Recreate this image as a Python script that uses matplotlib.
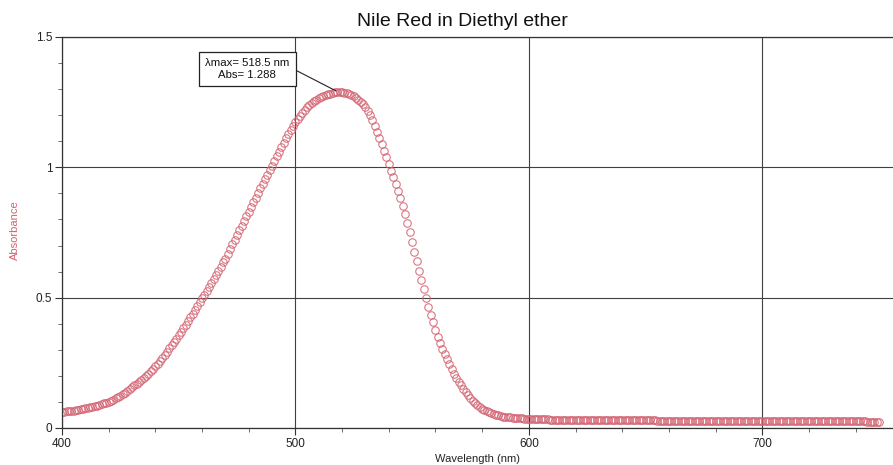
import numpy as np
import matplotlib
matplotlib.use('Agg')
import matplotlib.pyplot as plt
from matplotlib.ticker import MultipleLocator, FormatStrFormatter

plt.rcParams['font.family'] = ['Liberation Sans', 'DejaVu Sans']

# spectrum sampled every 1 nm, 400..750 nm
wavelength = np.arange(400, 751, 1)
absorbance = [
    0.062, 0.063, 0.064, 0.065, 0.066, 0.067, 0.068, 0.070, 0.071, 0.073,
    0.075, 0.077, 0.079, 0.081, 0.083, 0.086, 0.088, 0.091, 0.094, 0.097,
    0.101, 0.105, 0.109, 0.114, 0.119, 0.124, 0.130, 0.136, 0.142, 0.149,
    0.156, 0.163, 0.170, 0.177, 0.185, 0.193, 0.201, 0.209, 0.218, 0.227,
    0.236, 0.247, 0.258, 0.269, 0.281, 0.293, 0.305, 0.318, 0.330, 0.343,
    0.356, 0.369, 0.383, 0.396, 0.410, 0.424, 0.438, 0.453, 0.467, 0.482,
    0.497, 0.512, 0.527, 0.542, 0.558, 0.573, 0.588, 0.604, 0.619, 0.635,
    0.650, 0.668, 0.686, 0.704, 0.722, 0.740, 0.758, 0.776, 0.794, 0.812,
    0.830, 0.848, 0.866, 0.884, 0.902, 0.920, 0.937, 0.954, 0.971, 0.988,
    1.005, 1.024, 1.042, 1.060, 1.078, 1.095, 1.111, 1.127, 1.142, 1.157,
    1.172, 1.185, 1.197, 1.209, 1.220, 1.230, 1.239, 1.247, 1.254, 1.260,
    1.265, 1.270, 1.274, 1.278, 1.281, 1.283, 1.285, 1.287, 1.288, 1.288,
    1.287, 1.286, 1.284, 1.281, 1.277, 1.272, 1.267, 1.260, 1.252, 1.243,
    1.232, 1.217, 1.200, 1.181, 1.160, 1.137, 1.112, 1.088, 1.063, 1.038,
    1.012, 0.987, 0.962, 0.936, 0.910, 0.882, 0.853, 0.821, 0.786, 0.750,
    0.712, 0.676, 0.640, 0.604, 0.568, 0.533, 0.498, 0.466, 0.434, 0.405,
    0.376, 0.350, 0.325, 0.303, 0.282, 0.263, 0.244, 0.226, 0.209, 0.193,
    0.178, 0.164, 0.150, 0.137, 0.125, 0.114, 0.104, 0.095, 0.087, 0.080,
    0.074, 0.069, 0.064, 0.060, 0.056, 0.053, 0.050, 0.048, 0.046, 0.044,
    0.043, 0.042, 0.041, 0.040, 0.039, 0.038, 0.037, 0.037, 0.036, 0.036,
    0.035, 0.035, 0.034, 0.034, 0.034, 0.033, 0.033, 0.033, 0.033, 0.032,
    0.032, 0.032, 0.032, 0.032, 0.031, 0.031, 0.031, 0.031, 0.031, 0.031,
    0.031, 0.031, 0.031, 0.030, 0.030, 0.030, 0.030, 0.030, 0.030, 0.030,
    0.030, 0.030, 0.030, 0.030, 0.030, 0.029, 0.029, 0.029, 0.029, 0.029,
    0.029, 0.029, 0.029, 0.029, 0.029, 0.029, 0.029, 0.029, 0.029, 0.029,
    0.029, 0.029, 0.029, 0.029, 0.029, 0.028, 0.028, 0.028, 0.028, 0.028,
    0.028, 0.028, 0.028, 0.028, 0.028, 0.028, 0.028, 0.028, 0.028, 0.028,
    0.028, 0.028, 0.028, 0.028, 0.028, 0.027, 0.027, 0.027, 0.027, 0.027,
    0.027, 0.027, 0.027, 0.027, 0.027, 0.027, 0.027, 0.027, 0.027, 0.027,
    0.027, 0.027, 0.027, 0.027, 0.027, 0.026, 0.026, 0.026, 0.026, 0.026,
    0.026, 0.026, 0.026, 0.026, 0.026, 0.026, 0.026, 0.026, 0.026, 0.026,
    0.026, 0.026, 0.026, 0.026, 0.026, 0.025, 0.025, 0.025, 0.025, 0.025,
    0.025, 0.025, 0.025, 0.025, 0.025, 0.025, 0.025, 0.025, 0.025, 0.025,
    0.025, 0.025, 0.025, 0.025, 0.025, 0.025, 0.025, 0.025, 0.025, 0.025,
    0.025, 0.025, 0.025, 0.025, 0.025, 0.024, 0.024, 0.024, 0.024, 0.024,
    0.024,
]
peak_wl = 518.5
peak_abs = 1.288

red = '#d2606f'
grid_col = '#404040'

fig = plt.figure(figsize=(8.93, 4.65), dpi=100)
ax = fig.add_axes([0.0694, 0.0796, 0.9306, 0.8409])

ax.plot(wavelength, absorbance, linestyle='none', marker='o', markersize=5.4,
        markerfacecolor='none', markeredgecolor=red, markeredgewidth=0.8, alpha=0.85)

ax.set_xlim(400, 756)
ax.set_ylim(0, 1.5)
ax.set_xticks([400, 500, 600, 700])
ax.set_yticks([0, 0.5, 1, 1.5])
ax.yaxis.set_major_formatter(FormatStrFormatter('%g'))
ax.xaxis.set_minor_locator(MultipleLocator(20))
ax.yaxis.set_minor_locator(MultipleLocator(0.1))
ax.tick_params(which='major', length=5, width=0.8, color='#333333', labelsize=8.5,
               labelcolor='#222222', pad=2)
ax.tick_params(which='minor', length=3, width=0.6, color='#555555')
ax.grid(True, which='major', color=grid_col, linewidth=0.8)

ax.spines['right'].set_visible(False)
for s in ['left', 'bottom', 'top']:
    ax.spines[s].set_color('#333333')
    ax.spines[s].set_linewidth(0.9)

ax.set_xlabel('Wavelength (nm)', fontsize=8, color='#222222', labelpad=3)
fig.text(0.017, 0.505, 'Absorbance', rotation=90, ha='center', va='center',
         fontsize=8, color=red)
fig.text(0.518, 0.953, 'Nile Red in Diethyl ether', ha='center', va='center',
         fontsize=14, color='#111111')

ax.annotate('\u03bbmax= %.1f nm\nAbs= %.3f' % (peak_wl, peak_abs),
            xy=(peak_wl, peak_abs), xytext=(479.3, 1.377),
            ha='center', va='center', fontsize=8.2, color='#111111',
            bbox=dict(boxstyle='square,pad=0.55', fc='white', ec='#222222', lw=0.9),
            arrowprops=dict(arrowstyle='-', color='#222222', lw=0.8,
                            relpos=(1.0, 0.6), shrinkA=0, shrinkB=2))

fig.savefig('out.png', dpi=100)
